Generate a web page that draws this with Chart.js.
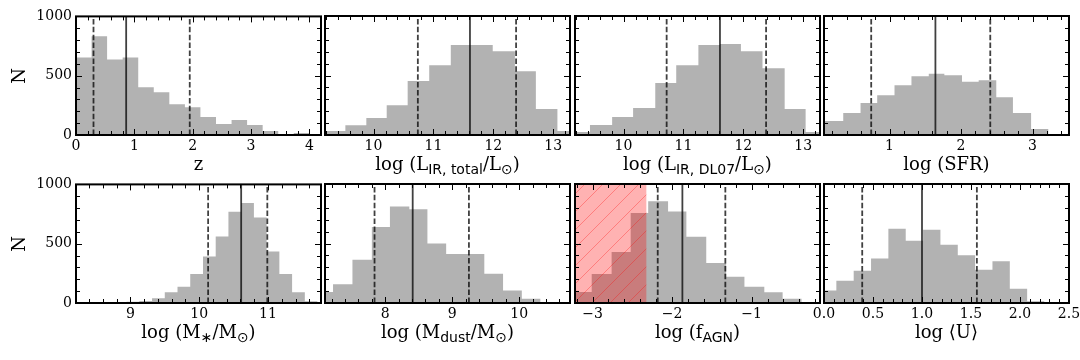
<!DOCTYPE html>
<html lang="en">
<head>
  <meta charset="UTF-8" />
  <title>Histograms</title>
  <script src="https://cdn.jsdelivr.net/npm/chart.js"></script>
  <style>
    body {
      margin: 0;
      background: #fff;
      width: 1080px;
      height: 360px;
      overflow: hidden;
      position: relative;
      font-family: 'DejaVu Serif', serif;
    }
    canvas { position: absolute; }
    .xlabel {
      position: absolute;
      text-align: center;
      font-size: 18px;
      line-height: 20px;
      white-space: nowrap;
      color: #000;
    }
    .xlabel .s {
      font-family: 'DejaVu Sans', sans-serif;
      font-size: 14px;
      position: relative;
      top: 4px;
    }
    .ylabel {
      position: absolute;
      font-size: 18px;
      line-height: 20px;
      width: 40px;
      text-align: center;
      transform: rotate(-90deg);
    }
  </style>
</head>
<body>
  <script>
    // counts per bin, bin edges, and 16th / median / 84th percentile marks
    const zEdges = [0, 0.267, 0.533, 0.8, 1.067, 1.333, 1.6, 1.867, 2.133, 2.4, 2.667, 2.933, 3.2, 3.467, 3.733, 4.0];
    const zCounts = [654, 832, 637, 654, 402, 360, 260, 235, 151, 92, 126, 84, 34, 8, 17];
    const zMarks = [0.30, 0.86, 1.95];

    const lirTotEdges = [9.19, 9.53, 9.88, 10.22, 10.57, 10.93, 11.29, 11.64, 11.99, 12.36, 12.71, 13.07, 13.42];
    const lirTotCounts = [34, 81, 142, 251, 453, 587, 757, 757, 704, 536, 218, 34];
    const lirTotMarks = [10.74, 11.61, 12.38];

    const lirDlEdges = [9.08, 9.44, 9.81, 10.16, 10.53, 10.88, 11.25, 11.61, 11.96, 12.32, 12.69, 13.04, 13.40];
    const lirDlCounts = [25, 84, 151, 226, 436, 587, 757, 765, 704, 561, 218, 25];
    const lirDlMarks = [10.72, 11.61, 12.38];

    const sfrEdges = [0.084, 0.353, 0.595, 0.828, 1.07, 1.307, 1.549, 1.767, 2.014, 2.247, 2.493, 2.726, 2.98, 3.22, 3.47];
    const sfrCounts = [117, 184, 268, 335, 419, 494, 514, 503, 447, 461, 318, 184, 50, 8];
    const sfrMarks = [0.744, 1.642, 2.409];

    const mstarEdges = [8.76, 8.945, 9.13, 9.315, 9.5, 9.685, 9.87, 10.055, 10.24, 10.425, 10.61, 10.795, 10.98, 11.165, 11.35, 11.535, 11.72];
    const mstarCounts = [8, 11, 17, 39, 90, 137, 244, 392, 560, 770, 843, 720, 434, 244, 90, 14];
    const mstarMarks = [10.13, 10.61, 10.99];

    const mdustEdges = [6.94, 7.22, 7.51, 7.80, 8.07, 8.36, 8.63, 8.91, 9.19, 9.48, 9.76, 10.04, 10.32];
    const mdustCounts = [92, 157, 364, 639, 810, 787, 499, 412, 412, 246, 104, 36];
    const mdustMarks = [7.84, 8.41, 9.25];

    const fagnEdges = [-3.25, -3.01, -2.76, -2.52, -2.30, -2.05, -1.82, -1.57, -1.32, -1.09, -0.84, -0.61, -0.37];
    const fagnCounts = [92, 244, 429, 756, 854, 768, 557, 336, 221, 137, 90, 36];
    const fagnMarks = [-2.18, -1.87, -1.33];
    const fagnExcluded = [-3.22, -2.32];

    const uEdges = [-0.051, 0.126, 0.303, 0.48, 0.657, 0.834, 1.011, 1.188, 1.365, 1.542, 1.719, 1.896, 2.073, 2.25];
    const uCounts = [104, 188, 272, 373, 625, 524, 616, 490, 401, 280, 350, 120, 14];
    const uMarks = [0.39, 1.0, 1.56];

    // axis ranges and tick labels
    const zRange = [0, 4.2], lirRange = [9.19, 13.28], sfrRange = [0.084, 3.51];
    const mstarRange = [8.21, 11.77], mdustRange = [7.10, 10.76], fagnRange = [-3.22, -0.14], uRange = [0, 2.5];
    const zTicks = [0, 1, 2, 3, 4];
    const lirTicks = [10, 11, 12, 13];
    const sfrTicks = [1, 2, 3];
    const mstarTicks = [9, 10, 11];
    const mdustTicks = [8, 9, 10];
    const fagnTicks = [-3, -2, -1];
    const uTicks = [0, 0.5, 1, 1.5, 2, 2.5];
    const yTicks = [0, 500, 1000];

    const sun = '<span class="s">\u2299</span>';
    const panels = [
      { edges: zEdges, counts: zCounts, marks: zMarks, range: zRange, ticks: zTicks, minor: 0.2, dp: 0, label: 'z' },
      { edges: lirTotEdges, counts: lirTotCounts, marks: lirTotMarks, range: lirRange, ticks: lirTicks, minor: 0.2, dp: 0,
        label: 'log (L<span class="s">IR, total</span>/L' + sun + ')' },
      { edges: lirDlEdges, counts: lirDlCounts, marks: lirDlMarks, range: lirRange, ticks: lirTicks, minor: 0.2, dp: 0,
        label: 'log (L<span class="s">IR, DL07</span>/L' + sun + ')' },
      { edges: sfrEdges, counts: sfrCounts, marks: sfrMarks, range: sfrRange, ticks: sfrTicks, minor: 0.2, dp: 0, label: 'log (SFR)' },
      { edges: mstarEdges, counts: mstarCounts, marks: mstarMarks, range: mstarRange, ticks: mstarTicks, minor: 0.2, dp: 0,
        label: 'log (M<span class="s">\u2217</span>/M' + sun + ')' },
      { edges: mdustEdges, counts: mdustCounts, marks: mdustMarks, range: mdustRange, ticks: mdustTicks, minor: 0.2, dp: 0,
        label: 'log (M<span class="s">dust</span>/M' + sun + ')' },
      { edges: fagnEdges, counts: fagnCounts, marks: fagnMarks, range: fagnRange, ticks: fagnTicks, minor: 0.2, dp: 0,
        label: 'log (f<span class="s">AGN</span>)', excluded: fagnExcluded },
      { edges: uEdges, counts: uCounts, marks: uMarks, range: uRange, ticks: uTicks, minor: 0.1, dp: 1, label: 'log \u27E8U\u27E9' }
    ];

    // layout of the plot areas on the page
    const colLeft = [76, 325, 575, 824];
    const rowTop = [16, 184];
    const plotW = 245, plotH = 119;
    const PL = 50, PR = 16, PT = 12, PB = 26;

    // inward ticks on all four sides plus the frame
    const frameTicks = {
      id: 'frameTicks',
      afterDatasetsDraw(chart, args, opts) {
        const { ctx, chartArea: a, scales: { x, y } } = chart;
        ctx.save();
        ctx.strokeStyle = '#000';
        ctx.lineWidth = 1;
        ctx.beginPath();
        const xs = (v, len) => {
          const p = Math.round(x.getPixelForValue(v)) + 0.5;
          if (p < a.left || p > a.right) return;
          ctx.moveTo(p, a.bottom); ctx.lineTo(p, a.bottom - len);
          ctx.moveTo(p, a.top); ctx.lineTo(p, a.top + len);
        };
        const ys = (v, len) => {
          const p = Math.round(y.getPixelForValue(v)) + 0.5;
          ctx.moveTo(a.left, p); ctx.lineTo(a.left + len, p);
          ctx.moveTo(a.right, p); ctx.lineTo(a.right - len, p);
        };
        const start = Math.ceil(x.min / opts.minor - 1e-6);
        for (let k = start; k * opts.minor <= x.max + 1e-6; k++) xs(k * opts.minor, 4);
        opts.ticks.forEach(v => xs(v, 6));
        for (let v = 0; v <= 1000; v += 100) ys(v, v % 500 === 0 ? 6 : 4);
        ctx.stroke();
        ctx.lineWidth = 2;
        ctx.strokeRect(a.left, a.top, a.width, a.height);
        ctx.restore();
      }
    };

    function hatchPattern(ctx) {
      const n = 18;
      const c = document.createElement('canvas');
      c.width = n; c.height = n;
      const g = c.getContext('2d');
      g.fillStyle = 'rgba(255,0,0,0.3)';
      g.fillRect(0, 0, n, n);
      g.strokeStyle = 'rgba(255,0,0,0.3)';
      g.lineWidth = 1;
      g.beginPath();
      g.moveTo(-1, n + 1); g.lineTo(n + 1, -1);
      g.moveTo(-2, 2); g.lineTo(2, -2);
      g.moveTo(n - 2, n + 2); g.lineTo(n + 2, n - 2);
      g.stroke();
      return ctx.createPattern(c, 'repeat');
    }

    const fmt = dp => v => v.toFixed(dp).replace('-', '\u2212');

    panels.forEach((p, i) => {
      const col = i % 4, row = Math.floor(i / 4);
      const left = colLeft[col], top = rowTop[row];

      const canvas = document.createElement('canvas');
      canvas.width = plotW + PL + PR;
      canvas.height = plotH + PT + PB;
      canvas.style.left = (left - PL) + 'px';
      canvas.style.top = (top - PT) + 'px';
      document.body.appendChild(canvas);
      const ctx = canvas.getContext('2d');

      const datasets = [];
      if (p.excluded) {
        datasets.push({
          data: [{ x: p.excluded[0], y: 1000 }, { x: p.excluded[1], y: 1000 }],
          borderWidth: 0, pointRadius: 0, fill: 'origin',
          backgroundColor: hatchPattern(ctx)
        });
      }
      p.marks.forEach((m, k) => {
        datasets.push({
          data: [{ x: m, y: 0 }, { x: m, y: 1000 }],
          borderColor: 'rgba(0,0,0,0.75)', borderWidth: 1.8,
          borderDash: k === 1 ? [] : [5.5, 2.4],
          pointRadius: 0, fill: false
        });
      });
      datasets.push({
        data: p.edges.map((e, k) => ({ x: e, y: k < p.counts.length ? p.counts[k] : 0 })),
        stepped: true, fill: 'origin',
        backgroundColor: '#b2b2b2', borderWidth: 0, pointRadius: 0
      });

      const tickFont = { family: 'DejaVu Serif', size: 14 };
      new Chart(ctx, {
        type: 'line',
        data: { datasets },
        plugins: [frameTicks],
        options: {
          responsive: false,
          animation: false,
          events: [],
          layout: { padding: { left: 0, right: PR, top: PT, bottom: 0 } },
          plugins: {
            legend: { display: false },
            tooltip: { enabled: false },
            frameTicks: { ticks: p.ticks, minor: p.minor }
          },
          scales: {
            x: {
              type: 'linear', min: p.range[0], max: p.range[1],
              grid: { display: false, drawTicks: false },
              border: { display: false },
              afterFit: s => { s.height = PB; },
              afterBuildTicks: s => { s.ticks = p.ticks.map(v => ({ value: v })); },
              ticks: { autoSkip: false, maxRotation: 0, padding: 3, color: '#000', font: tickFont, callback: fmt(p.dp) }
            },
            y: {
              min: 0, max: 1000,
              grid: { display: false, drawTicks: false },
              border: { display: false },
              afterFit: s => { s.width = PL; },
              afterBuildTicks: s => { s.ticks = yTicks.map(v => ({ value: v })); },
              ticks: { display: col === 0, padding: 4, color: '#000', font: tickFont, callback: v => String(v) }
            }
          }
        }
      });

      const xl = document.createElement('div');
      xl.className = 'xlabel';
      xl.style.left = left + 'px';
      xl.style.width = plotW + 'px';
      xl.style.top = (top + plotH + 19) + 'px';
      xl.innerHTML = p.label;
      document.body.appendChild(xl);

      if (col === 0) {
        const yl = document.createElement('div');
        yl.className = 'ylabel';
        yl.style.left = '-1px';
        yl.style.top = (top + plotH / 2 - 10) + 'px';
        yl.textContent = 'N';
        document.body.appendChild(yl);
      }
    });
  </script>
</body>
</html>
